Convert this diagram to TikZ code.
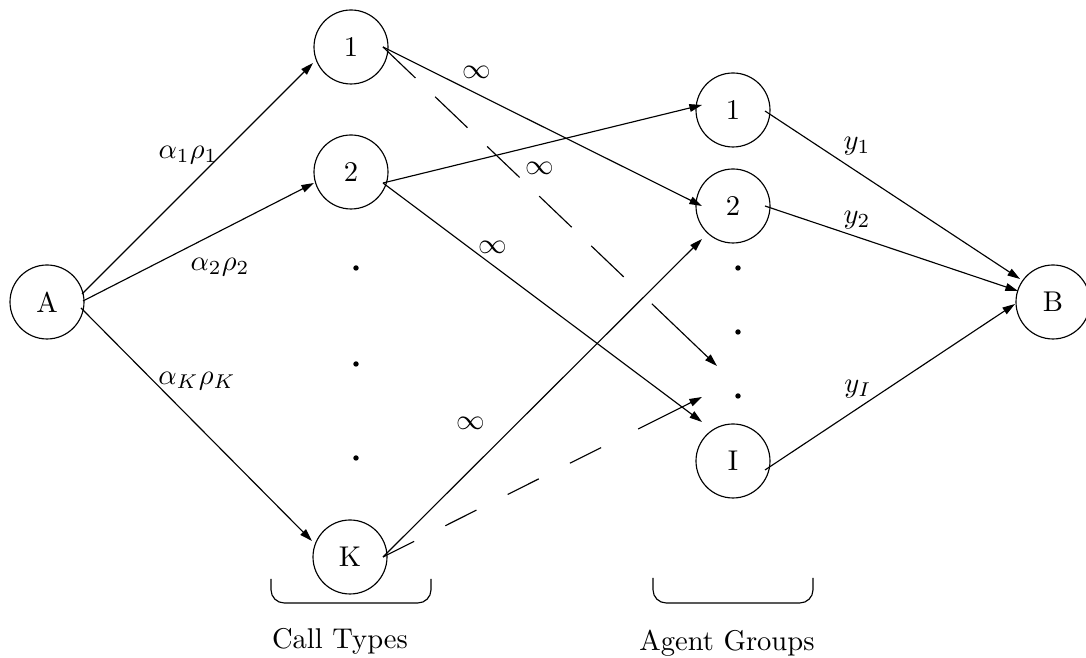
\documentclass[tikz,border=0pt]{standalone}
\usetikzlibrary{arrows.meta,calc}
\begin{document}
\begin{tikzpicture}[x=0.35pt,y=-0.35pt,
  state/.style={circle,draw,line width=0.4pt,minimum size=25.9pt,inner sep=0pt},
  conn/.style={line width=0.4pt,-{Triangle[length=4.4pt,width=2.7pt]}},
  plain/.style={line width=0.4pt},
  dashlong/.style={line width=0.4pt,dash pattern=on 15.7pt off 9.5pt},
  dasheven/.style={line width=0.4pt,dash pattern=on 12.2pt off 12.2pt},
  lbl/.style={inner sep=0pt},
  dotmark/.style={circle,fill,inner sep=0pt,minimum size=1.9pt},
  brace/.style={line width=0.4pt,rounded corners=4.6pt}]
\useasboundingbox (0,0) rectangle (1086,658);

% nodes
\node[state] (A) at (47,302) {A};
\node[state] (c1) at (351,47) {1};
\node[state] (c2) at (351,172) {2};
\node[state] (cK) at (350,557) {K};
\node[state] (g1) at (733,110) {1};
\node[state] (g2) at (733,206) {2};
\node[state] (gI) at (733,461) {I};
\node[state] (B) at (1053,302) {B};

% dots
\node[dotmark] (cd1) at (356,268) {};
\node[dotmark] (cd2) at (356,364) {};
\node[dotmark] (cd3) at (356,458) {};
\node[dotmark] (gd1) at (738,268) {};
\node[dotmark] (gd2) at (738,332) {};
\node[dotmark] (gd3) at (738,396) {};

% source edges
\draw[conn] ([shift={(35,-8)}]A.center) -- ([shift={(-38,16)}]c1.center);
\draw[conn] ([shift={(36,-1)}]A.center) -- ([shift={(-37,11)}]c2.center);
\draw[conn] ([shift={(34,6)}]A.center) -- ([shift={(-38,-16)}]cK.center);

% call type to agent group edges
\draw[conn] ([shift={(32,0)}]c1.center) -- ([shift={(-31,0)}]g2.center);
\draw[conn] ([shift={(32,11)}]c2.center) -- ([shift={(-31,-5)}]g1.center);
\draw[conn] ([shift={(32,11)}]c2.center) -- ([shift={(-31,-39)}]gI.center);
\draw[conn] ([shift={(33,0)}]cK.center) -- ([shift={(-31,33)}]g2.center);

% dashed edges
\coordinate (s1) at ([shift={(32,0)}]c1.center);
\coordinate (d1) at (717,366);
\draw[dashlong] (s1) -- ($(s1)!0.723!(d1)$);
\draw[conn] ($(s1)!0.805!(d1)$) -- (d1);
\coordinate (s2) at ([shift={(33,0)}]cK.center);
\coordinate (d2) at (702,397);
\draw[dasheven] (s2) -- ($(s2)!0.686!(d2)$);
\draw[conn] ($(s2)!0.80!(d2)$) -- (d2);

% sink edges
\draw[conn] ([shift={(32,1)}]g1.center) -- ([shift={(-33,-23)}]B.center);
\draw[conn] ([shift={(32,0)}]g2.center) -- ([shift={(-35,-11)}]B.center);
\draw[conn] ([shift={(32,9)}]gI.center) -- ([shift={(-38,2)}]B.center);

% labels
\node[lbl] (l1) at (188,155) {$\alpha_1\rho_1$};
\node[lbl] (l2) at (220,267) {$\alpha_2\rho_2$};
\node[lbl] (lK) at (197,381) {$\alpha_K\rho_K$};
\node[lbl] (i1) at (477,72) {$\infty$};
\node[lbl] (i2) at (540,168) {$\infty$};
\node[lbl] (i3) at (493,247) {$\infty$};
\node[lbl] (i4) at (471,423) {$\infty$};
\node[lbl] (y1) at (857,146) {$y_1$};
\node[lbl] (y2) at (857,220) {$y_2$};
\node[lbl] (yI) at (858,389) {$y_I$};

% braces
\draw[brace] (271,579) -- (271,603) -- (431,603) -- (431,579);
\draw[brace] (653,578) -- (653,603) -- (813,603) -- (813,578);
\node[lbl] (ct) at (340,641) {Call Types};
\node[lbl] (ag) at (727,643) {Agent Groups};
\end{tikzpicture}
\end{document}
